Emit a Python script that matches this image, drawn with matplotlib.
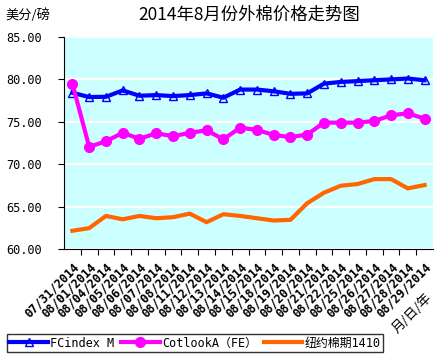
import matplotlib
matplotlib.use('Agg')
from matplotlib import pyplot as plt
from matplotlib import transforms

plt.rcParams['font.family'] = ['Noto Sans CJK SC', 'DejaVu Sans']
MONO = ['DejaVu Sans Mono', 'Noto Sans CJK SC']

dates = ['07/31/2014', '08/01/2014', '08/04/2014', '08/05/2014', '08/06/2014',
         '08/07/2014', '08/08/2014', '08/11/2014', '08/12/2014', '08/13/2014',
         '08/14/2014', '08/15/2014', '08/18/2014', '08/19/2014', '08/20/2014',
         '08/21/2014', '08/22/2014', '08/25/2014', '08/26/2014', '08/27/2014',
         '08/28/2014', '08/29/2014']
fcindex = [78.42, 77.92, 77.95, 78.70, 78.07, 78.15, 78.03, 78.15, 78.35, 77.84,
           78.80, 78.80, 78.60, 78.30, 78.35, 79.50, 79.70, 79.80, 79.90, 80.00,
           80.10, 79.90]
cotlook = [79.50, 72.05, 72.70, 73.70, 73.00, 73.65, 73.30, 73.70, 74.00, 72.94,
           74.30, 74.05, 73.45, 73.20, 73.50, 74.90, 74.90, 74.90, 75.10, 75.76,
           76.00, 75.37]
nyfut = [62.15, 62.46, 63.90, 63.50, 63.90, 63.63, 63.75, 64.17, 63.16, 64.10,
         63.90, 63.63, 63.36, 63.44, 65.40, 66.64, 67.46, 67.66, 68.24, 68.24,
         67.15, 67.54]
yticks = [60, 65, 70, 75, 80, 85]

fig = plt.figure(figsize=(4.4, 3.58), dpi=100)
ax = fig.add_axes([64/440, 1-249/358, 369/440, 212/358])
ax.set_facecolor('#CCFFFF')

x = range(len(dates))
l1, = ax.plot(x, fcindex, color='#0000FF', lw=3, marker='^', ms=6,
              mfc='none', mec='#0000FF', mew=1, label='FCindex M')
l2, = ax.plot(x, cotlook, color='#FF00FF', lw=3, marker='o', ms=7,
              mfc='#FF00FF', mec='#FF00FF', label='CotlookA（FE）')
l3, = ax.plot(x, nyfut, color='#FF6600', lw=3, label='纽约棉期1410')

ax.set_xlim(-0.5, len(dates) - 0.5)
ax.set_ylim(60, 85)
ax.set_yticks(yticks)
ax.set_yticklabels(['%.2f' % v for v in yticks], family=MONO, fontsize=8.6)
ax.grid(axis='y', color='white', lw=1.5)
ax.set_axisbelow(True)
ax.set_xticks([i + 0.5 for i in range(len(dates) - 1)], minor=False)
ax.set_xticklabels([])
ax.set_xticks(list(x), minor=True)
ax.set_xticklabels(dates, minor=True, rotation=45, ha='right',
                   rotation_mode='anchor', family=MONO, fontsize=8.6,
                   fontweight='bold')
# shift date labels a bit to the left, like the original
shift = transforms.ScaledTranslation(-6/100, 0, fig.dpi_scale_trans)
for lab in ax.get_xticklabels(minor=True):
    lab.set_transform(lab.get_transform() + shift)
ax.tick_params(axis='x', which='minor', length=0, pad=8)
ax.tick_params(axis='x', which='major', length=4, direction='out')
ax.tick_params(axis='y', length=4, direction='out', pad=12)
for s in ('top', 'right'):
    ax.spines[s].set_visible(False)

fig.text(249/440, 1-15/358, '2014年8月份外棉价格走势图', ha='center', va='center', fontsize=12.5)
fig.text(5/440, 1-15/358, '美分/磅', ha='left', va='center', fontsize=9.5)
fig.text(412/440, 1-313/358, '月/日/年', ha='center', va='center', rotation=45, fontsize=9.5)

leg = fig.legend(handles=[l1, l2, l3], loc='lower left', ncol=3,
                 bbox_to_anchor=(7/440, 6/358), fancybox=False, frameon=True,
                 prop={'family': MONO, 'size': 8.6}, handlelength=3.2,
                 handletextpad=0.2, columnspacing=0.6, borderpad=0.2,
                 borderaxespad=0)
leg.get_frame().set_edgecolor('black')
leg.get_frame().set_linewidth(1)

fig.savefig('out.png', dpi=100)
